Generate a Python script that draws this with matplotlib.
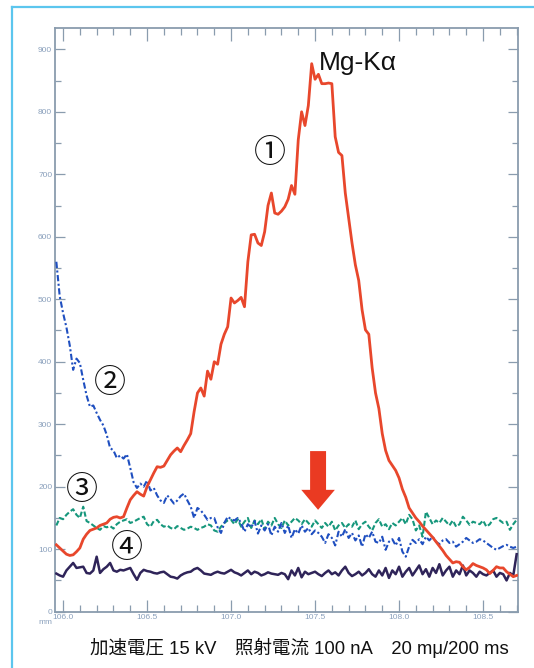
import numpy as np
import matplotlib
matplotlib.use("Agg")
import matplotlib.pyplot as plt
from matplotlib.lines import Line2D
from matplotlib.patches import FancyArrow
from matplotlib.ticker import MultipleLocator

plt.rcParams['font.family'] = ['Liberation Sans', 'Noto Sans CJK JP', 'DejaVu Sans']

# scan positions (mm), 0.02 mm step
pos = np.round(np.arange(105.96, 108.705, 0.02), 2)

# ① Mg-Ka intensity at the reference point
curve1 = [107, 102, 97, 92, 90, 91, 96, 102, 116, 124,
          130, 132, 134, 138, 140, 142, 148, 151, 152, 150,
          152, 166, 179, 186, 192, 188, 185, 200, 211, 222,
          232, 231, 233, 242, 251, 257, 262, 256, 266, 275,
          285, 320, 350, 358, 345, 385, 372, 400, 396, 428,
          444, 456, 502, 494, 498, 503, 488, 560, 603, 604,
          590, 586, 608, 650, 670, 638, 636, 641, 648, 660,
          682, 668, 755, 800, 778, 810, 877, 852, 860, 845,
          845, 846, 845, 760, 735, 730, 670, 630, 590, 555,
          530, 483, 451, 444, 390, 350, 325, 285, 258, 242,
          234, 226, 214, 196, 183, 166, 158, 150, 144, 137,
          131, 125, 119, 112, 105, 98, 90, 84, 78, 80,
          79, 72, 67, 71, 77, 74, 72, 70, 67, 61,
          66, 72, 70, 70, 64, 60, 56, 58]

# ②
curve2 = [560, 505, 478, 455, 426, 387, 405, 398, 371, 346,
          328, 330, 318, 307, 298, 283, 262, 258, 246, 250,
          245, 252, 230, 207, 198, 205, 200, 210, 194, 198,
          186, 178, 174, 186, 180, 173, 178, 185, 189, 178,
          168, 150, 166, 162, 155, 147, 150, 150, 135, 126,
          142, 152, 148, 146, 150, 142, 128, 140, 135, 145,
          125, 138, 130, 140, 122, 136, 128, 142, 126, 138,
          118, 132, 125, 138, 128, 134, 124, 130, 126, 120,
          110, 124, 118, 106, 128, 120, 132, 118, 126, 114,
          122, 104, 124, 118, 128, 112, 110, 120, 99, 112,
          116, 106, 118, 96, 88, 104, 115, 110, 116, 108,
          120, 114, 120, 112, 108, 114, 116, 110, 112, 104,
          108, 112, 118, 114, 110, 112, 116, 114, 110, 106,
          102, 99, 102, 105, 107, 104, 102, 104]

# ③
curve3 = [138, 150, 148, 155, 160, 164, 155, 150, 168, 145,
          142, 138, 134, 131, 137, 135, 137, 133, 140, 144,
          146, 148, 142, 144, 147, 150, 152, 140, 136, 145,
          147, 140, 136, 138, 134, 132, 137, 134, 131, 133,
          136, 134, 131, 134, 136, 140, 138, 130, 128, 136,
          142, 146, 147, 140, 148, 136, 144, 150, 134, 146,
          140, 148, 132, 144, 138, 150, 140, 134, 146, 138,
          144, 150, 146, 140, 148, 142, 136, 146, 140, 134,
          142, 136, 144, 130, 138, 142, 134, 140, 136, 146,
          132, 140, 144, 136, 130, 142, 148, 136, 140, 132,
          142, 138, 144, 150, 140, 155, 148, 130, 138, 120,
          160, 150, 140, 146, 142, 150, 144, 138, 146, 136,
          140, 152, 146, 139, 144, 142, 140, 146, 136, 140,
          148, 150, 146, 142, 144, 131, 140, 147]

# ④
curve4 = [61, 58, 56, 66, 72, 78, 70, 71, 72, 62,
          61, 66, 88, 62, 68, 72, 78, 66, 64, 67,
          66, 68, 70, 60, 51, 62, 67, 65, 64, 62,
          61, 63, 64, 60, 56, 55, 53, 58, 61, 63,
          64, 68, 70, 66, 61, 60, 59, 62, 64, 62,
          61, 64, 67, 63, 61, 58, 62, 66, 60, 64,
          62, 58, 60, 63, 61, 60, 59, 62, 60, 52,
          66, 58, 70, 55, 64, 60, 62, 64, 60, 57,
          62, 66, 60, 63, 58, 66, 72, 62, 57, 60,
          64, 58, 62, 68, 60, 56, 66, 58, 70, 54,
          66, 60, 72, 56, 64, 70, 58, 66, 74, 60,
          68, 56, 70, 62, 76, 58, 66, 72, 56, 66,
          60, 74, 58, 66, 62, 56, 64, 60, 58, 62,
          66, 56, 62, 60, 50, 62, 58, 92]

x_ticks = [106.0, 106.5, 107.0, 107.5, 108.0, 108.5]
y_ticks = [0, 100, 200, 300, 400, 500, 600, 700, 800, 900]

spine_col = '#8a9cae'
label_col = '#8aa0bc'

fig = plt.figure(figsize=(5.34, 6.68), dpi=100)
ax = fig.add_axes([0.103, 0.0843, 0.867, 0.8737])

ax.plot(pos, curve4, color='#2f2459', lw=1.8, zorder=3)
ax.plot(pos, curve3, color='#16977c', lw=1.5, dashes=(2.5, 1.2), zorder=3)
ax.plot(pos, curve2, color='#1f4fc0', lw=1.5, dashes=(3, 1.2, 1, 1.2), zorder=3)
ax.plot(pos, curve1, color='#e8472c', lw=2.0, zorder=4)

ax.set_xlim(105.952, 108.708)
ax.set_ylim(0, 934)

ax.set_xticks(x_ticks)
ax.set_xticklabels([f'{t:.1f}' for t in x_ticks])
ax.xaxis.set_minor_locator(MultipleLocator(0.1))
ax.set_yticks(y_ticks)
ax.yaxis.set_minor_locator(MultipleLocator(50))

ax.tick_params(axis='both', which='both', direction='in', top=True, right=True,
               color=spine_col, labelcolor=label_col, labelsize=6, width=0.9)
ax.tick_params(axis='x', which='major', length=9, pad=2)
ax.tick_params(axis='x', which='minor', length=5)
ax.tick_params(axis='y', which='major', length=7, pad=2)
ax.tick_params(axis='y', which='minor', length=4)
for s in ax.spines.values():
    s.set_color(spine_col)
    s.set_linewidth(1.3)

ax.text(105.935, -12, 'mm', ha='right', va='top', fontsize=6, color=label_col)

# peak label and circled series numbers
ax.text(107.52, 878, 'Mg-K\u03b1', fontsize=19, va='center', ha='left', color='#111111')
circ = ['Noto Sans CJK JP', 'DejaVu Sans']
for num, cx, cy in [('\u2460', 107.232, 734), ('\u2461', 106.28, 366),
                    ('\u2462', 106.113, 195), ('\u2463', 106.381, 102)]:
    ax.text(cx, cy, num, fontsize=23, ha='center', va='center', family=circ,
            color='#111111', zorder=6)

# marker arrow above the baseline traces
ax.add_patch(FancyArrow(107.518, 257, 0, -94, width=0.095, head_width=0.2,
                        head_length=32, length_includes_head=True,
                        color='#ea3a22', lw=0, zorder=5))

fig.text(0.560, 0.030, '加速電圧 15 kV　照射電流 100 nA　20 m\u03bc/200 ms',
         ha='center', va='center', fontsize=13.3, color='#111111',
         family=['Liberation Sans', 'Noto Sans CJK JP', 'DejaVu Sans'])

# light blue frame
fcol = '#5cc6ee'
fig.add_artist(Line2D([12 / 534, 12 / 534], [0, 1 - 7 / 668], color=fcol, lw=1.6))
fig.add_artist(Line2D([12 / 534, 1], [1 - 7 / 668, 1 - 7 / 668], color=fcol, lw=1.6))

fig.savefig('out.png', dpi=100)
